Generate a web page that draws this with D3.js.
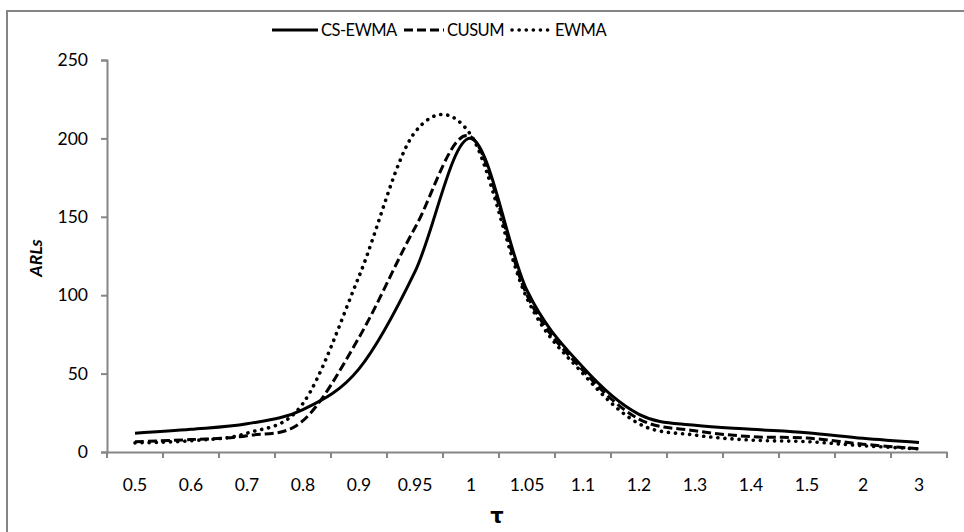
<!DOCTYPE html>
<html>
<head>
<style>
  body{
    margin: 0;
    background: white;
    font-family: Lato, 'Open Sans', sans-serif;
  }
</style>
</head>
<body>
  <svg id='svgVis'></svg>

<script src="https://cdn.jsdelivr.net/npm/d3@7"></script>
<script>

var categories = ['0.5','0.6','0.7','0.8','0.9','0.95','1','1.05','1.1','1.2','1.3','1.4','1.5','2','3'];

var csEwma = [12, 14.5, 18, 27, 53, 115, 200, 103, 54, 24, 17, 14.5, 12.3, 8.7, 6];
var cusum  = [6.6, 7.9, 10.4, 20, 73, 143, 201, 100, 52, 21, 13.6, 9.8, 8.9, 5, 2];
var ewma   = [5.8, 7.2, 12, 31, 112, 204, 202, 98, 50, 18, 10.8, 7.6, 6.6, 4, 2];

var yTicks = [0, 50, 100, 150, 200, 250];

var series = [
  {name: 'CS-EWMA', values: csEwma, dash: null, cap: 'butt'},
  {name: 'CUSUM', values: cusum, dash: '9,4', cap: 'butt'},
  {name: 'EWMA', values: ewma, dash: '0.1,7', cap: 'round'}
];

var width = 964, height = 532;

var svg = d3.select('#svgVis')
    .attr('width', width)
    .attr('height', height);

// outer frame (runs off the right and bottom edge)
svg.append('rect')
    .attr('x', 7).attr('y', 11)
    .attr('width', 990).attr('height', 560)
    .attr('fill', 'none')
    .attr('stroke', '#858585')
    .attr('stroke-width', 2);

var x = d3.scaleBand().domain(categories).range([107, 947]);
var y = d3.scaleLinear().domain([0, 250]).range([452, 60]);

var axisColor = '#868686';

// y axis
var yAxis = svg.append('g')
    .attr('transform', 'translate(107,0)')
    .call(d3.axisLeft(y).tickValues(yTicks).tickSize(6).tickPadding(13));

// x axis
var xAxis = svg.append('g')
    .attr('transform', 'translate(0,452)')
    .call(d3.axisBottom(x).tickSize(0).tickPadding(27));

xAxis.selectAll('.tick').append('line')
    .attr('x1', -x.bandwidth()/2).attr('x2', -x.bandwidth()/2)
    .attr('y1', 0).attr('y2', 6);
xAxis.append('line')
    .attr('x1', 947).attr('x2', 947)
    .attr('y1', 0).attr('y2', 6);

[xAxis, yAxis].forEach(function(g) {
  g.selectAll('path').attr('stroke', axisColor).attr('stroke-width', 2);
  g.selectAll('line').attr('stroke', axisColor).attr('stroke-width', 2);
  g.selectAll('text')
    .attr('fill', '#000')
    .style('font-family', 'Lato, sans-serif')
    .style('font-size', '17.5px');
});

// axis titles
svg.append('text')
    .attr('x', 497).attr('y', 523)
    .attr('text-anchor', 'middle')
    .style('font-family', "'DejaVu Sans', sans-serif")
    .style('font-weight', 'bold')
    .style('font-size', '21px')
    .text('τ');

svg.append('text')
    .attr('transform', 'translate(42,258) rotate(-90)')
    .attr('text-anchor', 'middle')
    .style('font-family', 'Lato, sans-serif')
    .style('font-weight', 'bold')
    .style('font-style', 'italic')
    .style('font-size', '17.5px')
    .text('ARLs');

var line = d3.line()
    .x(function(d, i) { return x(categories[i]) + x.bandwidth()/2; })
    .y(function(d) { return y(d); })
    .curve(d3.curveCatmullRom.alpha(0));

function styleLine(sel, s) {
  sel.attr('fill', 'none')
    .attr('stroke', '#000')
    .attr('stroke-width', s.cap === 'round' ? 3.6 : 3)
    .attr('stroke-linecap', s.cap)
    .attr('stroke-dasharray', s.dash);
}

series.forEach(function(s) {
  svg.append('path')
    .datum(s.values)
    .attr('d', line)
    .call(styleLine, s);
});

// legend
var legendX = [272, 404, 512];
var legend = svg.selectAll('.legend')
    .data(series)
    .enter().append('g')
    .attr('transform', function(d, i) { return 'translate(' + legendX[i] + ',30)'; });

legend.append('line')
    .attr('x1', 0).attr('x2', function(d, i) { return i === 0 ? 46 : 40; })
    .attr('y1', 0).attr('y2', 0)
    .each(function(d) { d3.select(this).call(styleLine, d); });

legend.append('text')
    .attr('x', function(d, i) { return i === 0 ? 49 : 43; })
    .attr('dy', '0.35em')
    .style('font-family', 'Lato, sans-serif')
    .style('font-size', '16.5px')
    .style('letter-spacing', '-0.5px')
    .text(function(d) { return d.name; });

</script>
</body>
</html>
